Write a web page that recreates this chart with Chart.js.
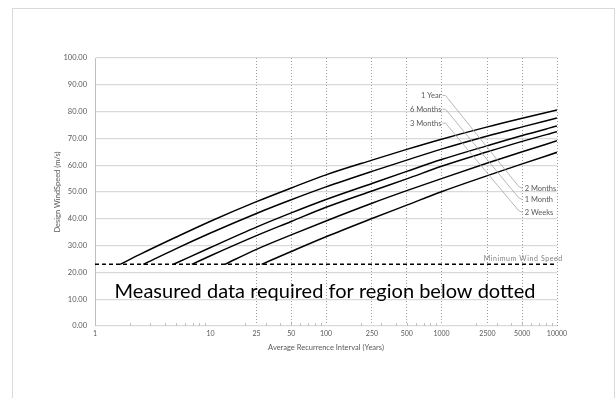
<!DOCTYPE html>
<html>
<head>
<meta charset="utf-8">
<script src="https://cdn.jsdelivr.net/npm/chart.js@4.4.1/dist/chart.umd.min.js"></script>
<style>
  html, body { margin: 0; padding: 0; background: #fff; }
  #wrap { width: 616px; height: 398px; position: relative; }
</style>
</head>
<body>
<div id="wrap"><canvas id="windChart"></canvas></div>
<script>
const seriesNames = ['1 Year', '6 Months', '3 Months', '2 Months', '1 Month', '2 Weeks'];
// ARI where each curve meets the minimum wind speed
const startAri = [1.65, 2.62, 4.77, 6.88, 13.3, 27.7];
const minWindSpeed = 23;

const curveAri = [2.5, 5, 10, 25, 50, 100, 250, 500, 1000, 2500, 5000, 10000];
const oneYear     = [26.9, 33.1, 39.1, 46.4, 51.5, 56.4, 61.9, 65.9, 69.7, 74.3, 77.5, 80.6];
const sixMonths   = [null, 28.8, 34.7, 42.0, 47.1, 51.9, 57.7, 61.9, 66.0, 70.9, 74.3, 77.6];
const threeMonths = [null, 23.4, 29.3, 36.9, 42.2, 47.2, 53.2, 57.7, 62.1, 67.3, 71.1, 74.6];
const twoMonths   = [null, null, 26.2, 33.7, 39.0, 44.3, 50.4, 54.9, 59.6, 65.0, 68.9, 72.5];
const oneMonth    = [null, null, null, 28.6, 34.0, 39.2, 45.8, 50.5, 55.0, 60.8, 65.0, 69.1];
const twoWeeks    = [null, null, null, null, 27.8, 33.3, 40.1, 45.1, 50.1, 56.1, 60.5, 64.8];
const seriesSpeeds = [oneYear, sixMonths, threeMonths, twoMonths, oneMonth, twoWeeks];

const xTickValues = [1, 10, 25, 50, 100, 250, 500, 1000, 2500, 5000, 10000];
const yTickStep = 10;

const textColor = '#595959';
const fontFamily = "Lato, 'Open Sans', sans-serif";

function curvePoints(i) {
  const pts = [{ x: startAri[i], y: minWindSpeed }];
  curveAri.forEach((ari, k) => {
    const v = seriesSpeeds[i][k];
    if (v !== null && ari > startAri[i]) pts.push({ x: ari, y: v });
  });
  return pts;
}

// where the series name labels sit (left block / right block, joined by leader lines)
const leftLabelAri = 1000;
const leftLabelSpeeds = [86.0, 80.9, 75.7];
const rightLabelAri = 5250;
const rightLabelSpeeds = [51.3, 47.1, 42.3];

const framePlugin = {
  id: 'frame',
  beforeDraw(chart) {
    const ctx = chart.ctx;
    ctx.save();
    ctx.fillStyle = '#fff';
    ctx.fillRect(0, 0, chart.width, chart.height);
    ctx.strokeStyle = '#d9d9d9';
    ctx.lineWidth = 1;
    ctx.strokeRect(12.5, 8.5, chart.width - 14, chart.height + 10);
    ctx.restore();
  }
};

const minorTicksPlugin = {
  id: 'minorTicks',
  afterDraw(chart) {
    const { ctx, chartArea } = chart;
    const x = chart.scales.x;
    ctx.save();
    ctx.strokeStyle = '#bfbfbf';
    ctx.lineWidth = 1;
    ctx.beginPath();
    for (let d = 1; d < 10000; d *= 10) {
      for (let k = 2; k <= 9; k++) {
        const px = Math.round(x.getPixelForValue(d * k)) + 0.5;
        ctx.moveTo(px, chartArea.bottom);
        ctx.lineTo(px, chartArea.bottom - 3);
      }
    }
    ctx.stroke();
    ctx.restore();
  }
};

const notesPlugin = {
  id: 'notes',
  afterDatasetsDraw(chart) {
    const { ctx, chartArea } = chart;
    const x = chart.scales.x, y = chart.scales.y;
    ctx.save();

    // minimum wind speed label
    ctx.font = '7px ' + fontFamily;
    ctx.letterSpacing = '0.6px';
    ctx.fillStyle = '#7f7f7f';
    ctx.textAlign = 'center';
    ctx.textBaseline = 'middle';
    ctx.fillText('Minimum Wind Speed', x.getPixelForValue(5000) + 1, y.getPixelForValue(minWindSpeed) - 6);
    ctx.letterSpacing = '0px';

    // big note
    ctx.font = '20px ' + fontFamily;
    ctx.fillStyle = '#000';
    ctx.fillText('Measured data required for region below dotted', (chartArea.left + chartArea.right) / 2 - 1, y.getPixelForValue(12.7));

    // series labels with leader lines
    ctx.font = '7.5px ' + fontFamily;
    ctx.fillStyle = textColor;
    const lx = x.getPixelForValue(leftLabelAri);
    const rx = x.getPixelForValue(rightLabelAri);
    for (let i = 0; i < 3; i++) {
      const ly = y.getPixelForValue(leftLabelSpeeds[i]);
      const ry = y.getPixelForValue(rightLabelSpeeds[i]);
      ctx.textAlign = 'right';
      ctx.fillText(seriesNames[i], lx, ly);
      ctx.textAlign = 'left';
      ctx.fillText(seriesNames[i + 3], rx, ry);
      ctx.strokeStyle = '#a6a6a6';
      ctx.lineWidth = 0.8;
      ctx.beginPath();
      ctx.moveTo(lx + 1, ly);
      ctx.lineTo(lx + 4, ly);
      ctx.lineTo(rx - 6, ry - 2);
      ctx.lineTo(rx - 2, ry);
      ctx.stroke();
    }
    ctx.restore();
  }
};

const datasets = seriesNames.map((name, i) => ({
  label: name,
  data: curvePoints(i),
  borderColor: '#000',
  borderWidth: 1.5,
  pointRadius: 0,
  cubicInterpolationMode: 'monotone',
  fill: false
}));
datasets.push({
  label: 'Minimum Wind Speed',
  data: [{ x: 1, y: minWindSpeed }, { x: 10000, y: minWindSpeed }],
  borderColor: '#000',
  borderWidth: 1.5,
  borderDash: [4, 3],
  pointRadius: 0,
  fill: false
});

new Chart(document.getElementById('windChart'), {
  type: 'line',
  data: { datasets },
  plugins: [framePlugin, minorTicksPlugin, notesPlugin],
  options: {
    responsive: true,
    maintainAspectRatio: false,
    animation: false,
    layout: { padding: { top: 58, right: 59, bottom: 0, left: 0 } },
    plugins: {
      legend: { display: false },
      tooltip: { enabled: false }
    },
    scales: {
      x: {
        type: 'logarithmic',
        min: 1,
        max: 10000,
        afterBuildTicks: (s) => { s.ticks = xTickValues.map((v) => ({ value: v })); },
        afterFit: (s) => { s.height = 72; },
        ticks: {
          callback: (v) => String(v),
          color: textColor,
          font: { family: fontFamily, size: 7 },
          padding: 4,
          autoSkip: false,
          maxRotation: 0
        },
        grid: {
          color: (c) => (c.tick && c.tick.value >= 25 ? '#9a9a9a' : 'rgba(0,0,0,0)'),
          lineWidth: 1,
          drawTicks: false
        },
        border: { display: false, dash: [1, 2] },
        title: {
          display: true,
          text: 'Average Recurrence Interval (Years)',
          color: textColor,
          font: { family: fontFamily, size: 7.5 },
          padding: { top: 0, bottom: 46 }
        }
      },
      y: {
        min: 0,
        max: 100,
        afterFit: (s) => { s.width = 95; },
        ticks: {
          stepSize: yTickStep,
          callback: (v) => v.toFixed(2),
          color: textColor,
          font: { family: fontFamily, size: 7.5 },
          padding: 8
        },
        grid: { color: '#d9d9d9', lineWidth: 1.3, drawTicks: false },
        border: { display: true, color: '#bfbfbf', width: 1 },
        title: {
          display: true,
          text: 'Design WindSpeed (m/s)',
          color: textColor,
          font: { family: fontFamily, size: 7.5 },
          padding: { top: 53, bottom: 0 }
        }
      }
    }
  }
});
</script>
</body>
</html>
